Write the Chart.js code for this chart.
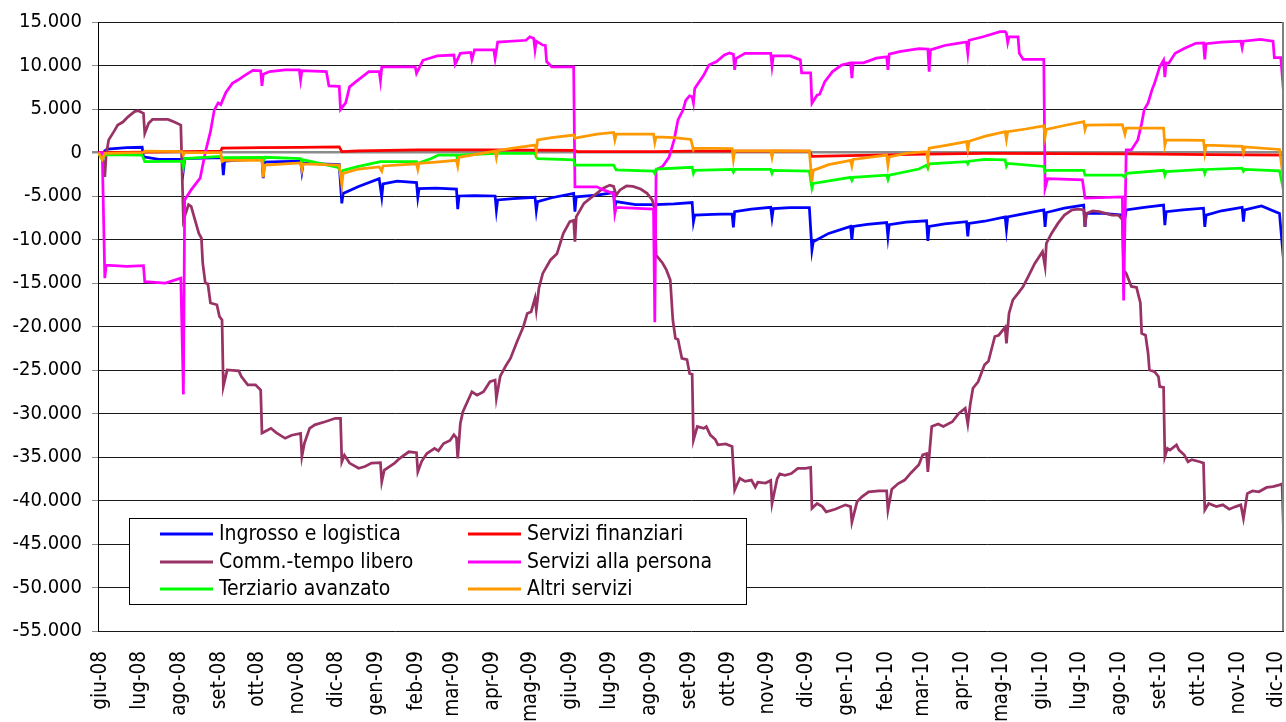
<!DOCTYPE html>
<html>
<head>
<meta charset="utf-8">
<script src="https://cdn.jsdelivr.net/npm/chart.js@4.4.1/dist/chart.umd.min.js"></script>
<style>
  html, body { margin: 0; padding: 0; background: #fff; overflow: hidden; }
  #wrap { width: 1286px; height: 722px; overflow: hidden; }
  canvas { display: block; }
</style>
</head>
<body>
<div id="wrap"><canvas id="c" width="1286" height="722"></canvas></div>
<script>
// ---- Data (day index: 0 = 1 June 2008) ----
const monthLabels = ['giu-08','lug-08','ago-08','set-08','ott-08','nov-08','dic-08','gen-09','feb-09','mar-09','apr-09','mag-09',
  'giu-09','lug-09','ago-09','set-09','ott-09','nov-09','dic-09','gen-10','feb-10','mar-10','apr-10','mag-10',
  'giu-10','lug-10','ago-10','set-10','ott-10','nov-10','dic-10'];
const monthStartDays = [0,30,61,92,122,153,183,214,245,273,304,334,365,395,426,457,487,518,548,579,610,638,669,699,730,760,791,822,852,883,913];

const seriesNames = ['Ingrosso e logistica','Servizi finanziari','Comm.-tempo libero','Servizi alla persona','Terziario avanzato','Altri servizi'];

const ingrosso = [[-2,0],[1,-400],[3,200],[5,400],[20,550],[32,600],[33,-500],[45,-800],[63,-800],[64,-2000],[65,-700],[80,-650],
  [94,-600],[95,-2600],[96,-1000],[110,-850],[125,-750],[126,-2950],[127,-1100],[140,-1050],[155,-1000],[156,-2200],[157,-1200],[170,-1300],
  [185,-1400],[187,-5850],[188,-4700],[200,-3900],[216,-3000],[218,-5100],[219,-3600],[230,-3300],[245,-3450],[246,-5150],[247,-4150],[260,-4100],
  [276,-4200],[277,-6500],[278,-5000],[290,-4950],[306,-5000],[307,-6650],[308,-5450],[320,-5300],[337,-5150],[338,-6700],[339,-5650],[350,-5200],
  [367,-4700],[368,-6800],[369,-5100],[385,-4900],[398,-4600],[399,-6250],[400,-5650],[415,-6000],[429,-6000],[430,-6400],[431,-6000],[445,-5900],
  [459,-5750],[460,-7950],[461,-7200],[475,-7100],[490,-7050],[491,-8600],[492,-6800],[505,-6500],[520,-6300],[521,-7500],[522,-6450],[535,-6350],
  [550,-6350],[552,-11200],[553,-10250],[565,-9300],[582,-8500],[583,-10050],[584,-8500],[595,-8250],[610,-8050],[611,-9650],[612,-8300],[625,-8000],
  [641,-7850],[642,-10150],[643,-8500],[655,-8200],[672,-7950],[673,-9650],[674,-8150],[686,-7900],[702,-7400],[703,-8850],[704,-7400],[718,-7000],
  [732,-6600],[733,-8550],[734,-6900],[748,-6400],[763,-6050],[764,-8550],[765,-7000],[778,-7000],[793,-7200],[795,-7500],[796,-6600],[810,-6300],
  [825,-6050],[826,-8350],[827,-6800],[840,-6600],[856,-6400],[857,-8550],[858,-7200],[870,-6700],[886,-6300],[887,-7950],[888,-6600],[901,-6150],
  [915,-7000],[918,-12150]];

const finanziari = [[-2,0],[33,50],[64,100],[93,150],[94,500],[124,550],[155,600],[185,650],[187,100],[200,200],[246,300],[300,300],
  [368,250],[370,100],[430,100],[460,150],[550,150],[552,-450],[580,-350],[640,-200],[686,-100],[800,-150],[860,-250],[918,-300]];

const commTempo = [[-2,0],[1,-300],[3,-2800],[4,-300],[6,1450],[10,2400],[13,3150],[17,3500],[21,4100],[26,4700],[29,4800],[33,4500],
  [34,2200],[37,3350],[40,3800],[52,3800],[57,3500],[62,3150],[64,-7750],[68,-6000],[70,-6200],[73,-7750],[76,-9300],[78,-9850],
  [79,-12700],[81,-15000],[83,-15100],[85,-17300],[90,-17500],[92,-18850],[94,-19250],[95,-26900],[98,-25000],[107,-25100],[109,-25750],[114,-26700],
  [120,-26700],[124,-27300],[125,-32250],[127,-32100],[132,-31700],[136,-32200],[143,-32850],[148,-32500],[155,-32300],[156,-34950],[158,-33400],[162,-31700],
  [166,-31300],[174,-30950],[182,-30550],[186,-30550],[187,-35550],[189,-34800],[193,-35700],[200,-36300],[205,-36100],[210,-35700],[217,-35650],[218,-37850],
  [220,-36500],[228,-35700],[232,-35150],[239,-34400],[245,-34500],[246,-36700],[249,-35500],[253,-34600],[259,-34000],[262,-34300],[266,-33450],[271,-33100],
  [274,-32450],[276,-32800],[277,-35150],[279,-31150],[281,-29800],[288,-27500],[292,-27900],[297,-27500],[302,-26350],[306,-26150],[307,-28250],[310,-25700],
  [314,-24600],[318,-23650],[323,-21750],[328,-20000],[331,-18500],[334,-18300],[337,-16750],[338,-18100],[340,-15600],[343,-13900],[349,-12350],[354,-11650],
  [359,-9300],[364,-7950],[367,-7800],[368,-10250],[369,-7400],[375,-5850],[380,-5250],[385,-4700],[390,-4100],[395,-3750],[398,-3900],[400,-4900],
  [403,-4300],[408,-3850],[413,-3900],[419,-4200],[424,-4700],[428,-5450],[430,-6500],[431,-11800],[436,-12700],[439,-13500],[442,-14650],[444,-19250],
  [446,-21350],[448,-21500],[451,-23650],[455,-23800],[457,-25400],[459,-25500],[460,-33050],[463,-31500],[468,-31700],[470,-31500],[473,-32450],[477,-33000],
  [479,-33600],[485,-33500],[490,-33800],[492,-38800],[496,-37450],[500,-37800],[505,-37650],[508,-38450],[510,-37900],[516,-38000],[520,-37700],[521,-40350],
  [525,-37500],[527,-36950],[531,-37100],[536,-36900],[541,-36300],[547,-36300],[551,-36200],[552,-40900],[556,-40350],[560,-40700],[563,-41300],[570,-41000],
  [578,-40500],[582,-40700],[583,-42500],[587,-40150],[591,-39550],[596,-39000],[604,-38900],[610,-38900],[611,-41100],[614,-38700],[619,-38050],[624,-37650],
  [629,-36800],[635,-35900],[638,-34750],[641,-34600],[642,-36700],[645,-31500],[650,-31200],[654,-31500],[661,-30950],[666,-30000],[671,-29400],[673,-31200],
  [675,-28850],[677,-27100],[681,-26350],[686,-24400],[689,-24000],[694,-21150],[697,-21000],[702,-20100],[703,-21950],[705,-18500],[708,-16950],[712,-16200],
  [716,-15400],[720,-14250],[725,-12750],[731,-11400],[733,-13100],[734,-10450],[738,-9300],[743,-8150],[748,-7200],[754,-6600],[759,-6500],[763,-6600],
  [764,-8550],[765,-7000],[770,-6700],[775,-6800],[780,-7000],[785,-7200],[790,-7200],[793,-7700],[794,-13500],[796,-13900],[800,-15400],[804,-15500],
  [807,-17300],[808,-20800],[811,-21000],[813,-23100],[814,-25000],[818,-25200],[821,-25750],[822,-26900],[825,-27000],[826,-34950],[828,-34000],[830,-34200],
  [835,-33600],[837,-34200],[841,-34750],[844,-35550],[847,-35300],[853,-35550],[856,-35700],[857,-41100],[860,-40350],[866,-40700],[871,-40500],[876,-41000],
  [881,-40700],[885,-40500],[887,-42050],[890,-39200],[894,-38900],[899,-39000],[905,-38500],[910,-38400],[915,-38200],[917,-38100],[918,-42800]];

const persona = [[-2,0],[1,0],[3,-14450],[4,-12950],[20,-13100],[33,-13000],[34,-14850],[50,-15000],[62,-14450],[64,-27800],[65,-5450],[70,-4300],
  [77,-2950],[81,0],[85,2400],[88,4900],[91,5700],[93,5500],[97,6900],[102,7950],[106,8300],[112,8900],[118,9450],[124,9400],
  [125,7650],[126,9000],[131,9300],[143,9500],[154,9500],[155,8350],[156,9400],[175,9300],[177,7650],[185,7600],[186,4950],[190,5700],
  [193,7550],[198,8150],[208,9300],[216,9300],[217,8250],[218,9850],[235,9850],[244,9850],[245,9100],[250,10600],[261,11100],[274,11200],
  [275,10150],[279,11400],[287,11500],[288,10700],[290,11800],[305,11800],[306,10800],[308,12700],[330,12900],[333,13300],[336,13100],[337,11800],
  [338,12800],[343,12350],[345,12300],[346,10450],[350,9850],[367,9850],[368,-3950],[385,-3950],[390,-4300],[398,-4700],[399,-7000],[400,-6300],
  [429,-6500],[430,-19500],[431,-2000],[436,-1600],[441,-550],[445,1450],[448,3750],[452,4900],[454,6000],[457,6500],[459,6400],[460,5700],
  [461,7350],[468,8900],[472,10050],[478,10450],[484,11200],[488,11450],[491,11300],[492,9500],[493,10800],[500,11400],[520,11400],[521,9950],
  [522,11100],[535,11100],[543,10650],[544,9150],[551,9150],[552,5650],[556,6600],[558,6700],[562,8150],[568,9300],[575,10050],[582,10300],
  [583,8550],[584,10300],[592,10300],[602,10850],[610,11000],[611,9500],[612,11300],[620,11600],[635,11950],[642,11900],[643,9300],[644,11800],
  [655,12300],[665,12550],[672,12700],[673,11400],[674,12900],[685,13300],[698,13900],[702,13900],[703,13700],[704,12650],[705,13300],[712,13300],
  [713,11400],[716,10700],[732,10700],[733,-4100],[735,-3000],[762,-3150],[764,-5250],[793,-5100],[794,-17000],[796,300],[800,300],[805,1450],
  [808,3350],[810,4950],[813,5700],[816,7200],[818,7950],[822,9850],[825,10600],[826,8650],[827,10300],[829,10250],[834,11400],[841,11950],
  [850,12550],[856,12600],[857,10700],[858,12500],[870,12700],[885,12800],[886,12050],[887,12800],[900,13000],[910,12800],[911,10900],[916,10900],
  [918,7200]];

const terziario = [[-2,-100],[1,-800],[3,-250],[32,-300],[34,-1050],[63,-1000],[64,-1650],[65,-700],[93,-450],[94,-850],[96,-600],[125,-550],
  [126,-1000],[127,-550],[155,-700],[156,-1050],[157,-850],[184,-1700],[187,-2400],[188,-2050],[200,-1600],[217,-1050],[245,-1050],[246,-1500],
  [247,-1200],[256,-720],[262,-290],[276,-290],[277,-880],[278,-300],[307,-100],[337,-100],[338,-550],[339,-700],[367,-850],[368,-1450],
  [398,-1450],[400,-2000],[429,-2150],[430,-2400],[431,-1900],[459,-1700],[460,-2400],[461,-2050],[490,-1950],[491,-2250],[492,-1950],[520,-1950],
  [521,-2400],[522,-2050],[550,-2150],[552,-4100],[553,-3550],[582,-2850],[583,-3200],[584,-2850],[610,-2600],[611,-3100],[612,-2600],[635,-1900],
  [641,-1450],[642,-1800],[643,-1300],[672,-1050],[673,-1300],[674,-1000],[686,-800],[702,-850],[703,-1550],[704,-1250],[732,-1600],[733,-2200],
  [734,-2050],[763,-2050],[764,-2600],[793,-2600],[795,-2850],[796,-2400],[825,-2050],[826,-2600],[827,-2200],[856,-1950],[857,-2400],[858,-1950],
  [886,-1800],[887,-2150],[888,-1950],[915,-2100],[918,-4250]];

const altri = [[-2,0],[1,-800],[3,-100],[33,0],[34,150],[63,100],[64,-300],[65,0],[93,0],[94,-1050],[96,-900],[125,-900],
  [126,-2850],[127,-1450],[155,-1200],[156,-2000],[157,-1300],[185,-1450],[187,-3750],[188,-2400],[200,-1900],[216,-1650],[218,-2150],[219,-1550],
  [245,-1300],[246,-1950],[247,-1250],[260,-1100],[276,-900],[277,-1550],[278,-550],[290,-250],[306,150],[307,-600],[308,200],[320,500],
  [337,850],[338,200],[339,1450],[350,1700],[367,2000],[368,1650],[385,2100],[398,2300],[399,1450],[400,2100],[429,2100],[430,1150],
  [431,1800],[445,1700],[458,1500],[460,300],[461,500],[490,450],[491,-800],[492,200],[520,200],[521,-550],[522,200],[550,150],
  [552,-3350],[553,-2050],[565,-1400],[582,-900],[583,-1550],[584,-800],[610,-300],[611,-1450],[612,-500],[625,-100],[641,100],[642,-900],
  [643,500],[655,800],[672,1250],[673,350],[674,1300],[686,1850],[702,2400],[703,1500],[704,2400],[718,2700],[732,3050],[733,1800],
  [734,2650],[748,3100],[763,3550],[764,2650],[765,3150],[793,3200],[795,2100],[796,2800],[825,2800],[826,850],[827,1450],[856,1400],
  [857,0],[858,850],[886,700],[887,0],[888,650],[915,350],[918,-3000]];

const yTickMin = -55000, yTickMax = 15000, yTickStep = 5000;

// ---- Chart ----
const seriesData = [ingrosso, finanziari, commTempo, persona, terziario, altri];
const seriesColors = ['#0000ff', '#ff0000', '#993366', '#ff00ff', '#00ff00', '#ff9900'];
const FONT = "'DejaVu Sans Condensed', 'DejaVu Sans', sans-serif";

function fmtIt(v) {
  if (v === 0) return '0';
  const s = Math.abs(v).toString().replace(/\B(?=(\d{3})+(?!\d))/g, '.');
  return (v < 0 ? '-' : '') + s;
}

const legendPlugin = {
  id: 'boxLegend',
  afterDraw(chart) {
    const ctx = chart.ctx;
    const x0 = 129, y0 = 518, w = 617, h = 86;
    ctx.save();
    ctx.fillStyle = '#ffffff';
    ctx.fillRect(x0, y0, w, h);
    ctx.strokeStyle = '#000000';
    ctx.lineWidth = 1;
    ctx.strokeRect(x0 + 0.5, y0 + 0.5, w, h);
    const colX = [160, 468];
    const rowY = [534, 562, 589];
    ctx.font = '21px ' + FONT;
    ctx.textBaseline = 'middle';
    ctx.textAlign = 'left';
    chart.data.datasets.forEach((ds, i) => {
      const cx = colX[i % 2], cy = rowY[Math.floor(i / 2)];
      ctx.strokeStyle = ds.borderColor;
      ctx.lineWidth = 3;
      ctx.beginPath();
      ctx.moveTo(cx, cy);
      ctx.lineTo(cx + 53, cy);
      ctx.stroke();
      ctx.fillStyle = '#000000';
      ctx.fillText(ds.label, cx + 59, cy + 1);
    });
    // right border of the plot area
    const a = chart.chartArea;
    ctx.strokeStyle = '#808080';
    ctx.lineWidth = 2;
    ctx.beginPath();
    ctx.moveTo(a.right - 1, a.top);
    ctx.lineTo(a.right - 1, a.bottom);
    ctx.stroke();
    ctx.restore();
  }
};

const chart = new Chart(document.getElementById('c'), {
  type: 'line',
  data: {
    datasets: seriesData.map((arr, i) => ({
      label: seriesNames[i],
      data: arr.map(p => ({ x: p[0], y: p[1] })),
      borderColor: seriesColors[i],
      backgroundColor: seriesColors[i],
      borderWidth: 2.75,
      pointRadius: 0,
      tension: 0,
      fill: false,
      order: seriesData.length - i
    }))
  },
  options: {
    responsive: false,
    devicePixelRatio: 1,
    animation: false,
    events: [],
    layout: { padding: { top: 22, right: 2, left: 0, bottom: 0 } },
    plugins: { legend: { display: false }, tooltip: { enabled: false } },
    scales: {
      x: {
        type: 'linear',
        min: -2.3,
        max: 918.5,
        grid: { display: false, drawTicks: false },
        border: { display: false },
        afterBuildTicks: (scale) => { scale.ticks = monthStartDays.map(v => ({ value: v })); },
        afterFit: (scale) => { scale.height = 91; scale.paddingLeft = 0; scale.paddingRight = 0; },
        ticks: {
          autoSkip: false,
          minRotation: 90,
          maxRotation: 90,
          padding: 20,
          color: '#000',
          font: { family: FONT, size: 20.5 },
          callback: (v) => { const k = monthStartDays.indexOf(v); return k >= 0 ? monthLabels[k] : ''; }
        }
      },
      y: {
        min: yTickMin,
        max: yTickMax,
        afterFit: (scale) => { scale.width = 98; },
        border: { display: true, color: '#000', width: 1 },
        grid: {
          color: (c) => (c.tick && c.tick.value === 0) ? '#8c8c8c' : '#1a1a1a',
          lineWidth: (c) => (c.tick && c.tick.value === 0) ? 2.5 : 1,
          tickColor: '#8c8c8c',
          tickLength: 6,
          drawTicks: true
        },
        ticks: {
          stepSize: yTickStep,
          padding: 10,
          color: '#000',
          font: { family: FONT, size: 20 },
          callback: (v) => fmtIt(v)
        }
      }
    }
  },
  plugins: [legendPlugin]
});
</script>
</body>
</html>
